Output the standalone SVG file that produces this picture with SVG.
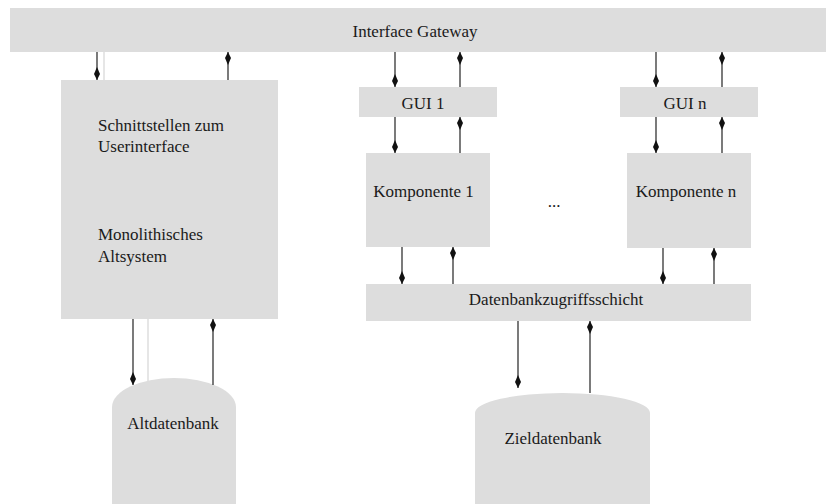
<svg xmlns="http://www.w3.org/2000/svg" width="826" height="504" viewBox="0 0 826 504">
<style>
.box{fill:#dddddd;stroke:none}
.t{font-family:"Liberation Serif","Times New Roman",serif;font-size:17px;fill:#1a1a1a}
.c{text-anchor:middle}
.ln{stroke:#222;stroke-width:1.2;fill:none;marker-end:url(#ah)}
.faint{stroke:#d6d6d6;stroke-width:1.2;fill:none}
</style>
<defs>
<marker id="ah" markerUnits="userSpaceOnUse" viewBox="-14 -4 15 8" refX="0" refY="0" markerWidth="15" markerHeight="8" orient="auto">
<path d="M0,0 L-6,-3 L-13,0 L-6,3 Z" fill="#111"/>
</marker>
</defs>
<rect width="826" height="504" fill="#ffffff"/>
<g id="gateway">
<rect class="box" x="10" y="8" width="816" height="44"/>
<text class="t c" x="415" y="37">Interface Gateway</text>
</g>
<g id="altsystem">
<rect class="box" x="61" y="80" width="217" height="239"/>
<text class="t" x="98" y="131">Schnittstellen zum</text>
<text class="t" x="98" y="152">Userinterface</text>
<text class="t" x="98" y="240">Monolithisches</text>
<text class="t" x="98" y="262">Altsystem</text>
</g>
<g id="altdatenbank">
<path class="box" d="M112,504 L112,407 A62,29 0 0 1 236,407 L236,504 Z"/>
<text class="t c" x="173" y="429">Altdatenbank</text>
</g>
<g id="gui1">
<rect class="box" x="359" y="87" width="138" height="30"/>
<text class="t c" x="423" y="109">GUI 1</text>
</g>
<g id="guin">
<rect class="box" x="620" y="87" width="138" height="30"/>
<text class="t c" x="685" y="109">GUI n</text>
</g>
<g id="komponente1">
<rect class="box" x="366" y="153" width="124" height="94"/>
<text class="t c" x="423.5" y="197">Komponente 1</text>
</g>
<g id="ellipsis">
<text class="t c" x="554" y="207">...</text>
</g>
<g id="komponenten">
<rect class="box" x="627" y="153" width="124" height="95"/>
<text class="t c" x="686" y="197">Komponente n</text>
</g>
<g id="datenbankzugriffsschicht">
<rect class="box" x="366" y="284" width="385" height="37"/>
<text class="t c" x="556" y="305">Datenbankzugriffsschicht</text>
</g>
<g id="zieldatenbank">
<path class="box" d="M475,504 L475,413 A87.5,20 0 0 1 650,413 L650,504 Z"/>
<text class="t c" x="553" y="444">Zieldatenbank</text>
</g>
<g id="connectors">
<line class="faint" x1="104" y1="52" x2="104" y2="80"/>
<line class="faint" x1="148" y1="319" x2="148" y2="381"/>
<line class="ln" x1="97" y1="52" x2="97" y2="80"/>
<line class="ln" x1="228" y1="80" x2="228" y2="52"/>
<line class="ln" x1="133" y1="319" x2="133" y2="385"/>
<line class="ln" x1="213" y1="385" x2="213" y2="319"/>
<line class="ln" x1="395" y1="52" x2="395" y2="87"/>
<line class="ln" x1="460" y1="87" x2="460" y2="52"/>
<line class="ln" x1="395" y1="117" x2="395" y2="153"/>
<line class="ln" x1="460" y1="153" x2="460" y2="117"/>
<line class="ln" x1="656" y1="52" x2="656" y2="87"/>
<line class="ln" x1="722" y1="87" x2="722" y2="52"/>
<line class="ln" x1="656" y1="117" x2="656" y2="153"/>
<line class="ln" x1="722" y1="153" x2="722" y2="117"/>
<line class="ln" x1="402" y1="247" x2="402" y2="284"/>
<line class="ln" x1="453" y1="284" x2="453" y2="247"/>
<line class="ln" x1="663" y1="248" x2="663" y2="284"/>
<line class="ln" x1="714" y1="284" x2="714" y2="248"/>
<line class="ln" x1="518" y1="321" x2="518" y2="388"/>
<line class="ln" x1="590" y1="393" x2="590" y2="321"/>
</g>
</svg>
